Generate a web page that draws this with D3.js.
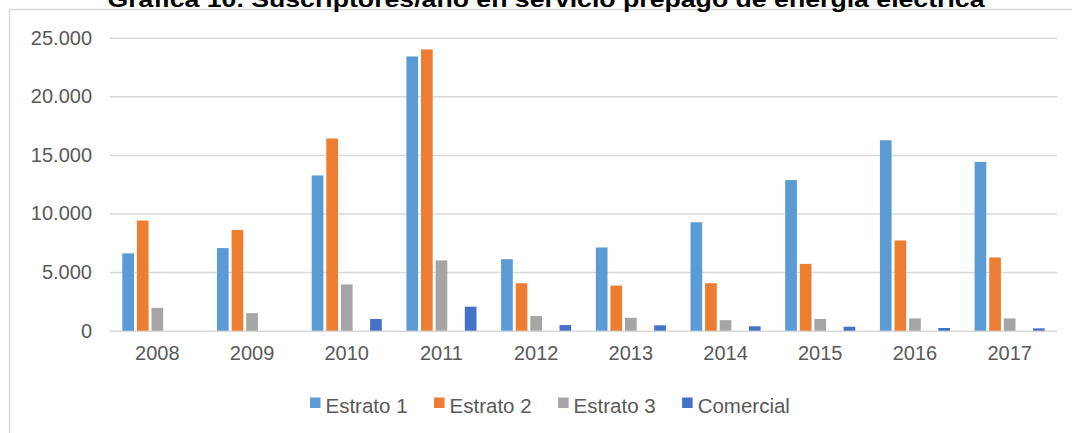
<!DOCTYPE html>
<html>
<head>
<meta charset="utf-8">
<script src="https://cdn.jsdelivr.net/npm/d3@7"></script>
<style>
  body { margin: 0; background: #fff; }
  svg { display: block; }
</style>
</head>
<body>
<svg width="1072" height="433"></svg>
<script>
// datos
var years = ["2008", "2009", "2010", "2011", "2012", "2013", "2014", "2015", "2016", "2017"];
var estrato1 = [6600, 7050, 13250, 23400, 6100, 7100, 9250, 12850, 16250, 14400];
var estrato2 = [9400, 8600, 16400, 24000, 4050, 3850, 4050, 5700, 7700, 6250];
var estrato3 = [1950, 1500, 3950, 6000, 1250, 1100, 900, 1000, 1050, 1050];
var comercial = [0, 0, 1000, 2050, 480, 460, 375, 340, 230, 200];
var yTicks = [0, 5000, 10000, 15000, 20000, 25000];

// the excel chart keeps an empty slot between Estrato 3 and Comercial
var slots = ["Estrato 1", "Estrato 2", "Estrato 3", "vacio", "Comercial"];
var series = [
    { name: "Estrato 1", values: estrato1, color: "#5b9bd5" },
    { name: "Estrato 2", values: estrato2, color: "#ed7d31" },
    { name: "Estrato 3", values: estrato3, color: "#a5a5a5" },
    { name: "Comercial", values: comercial, color: "#4472c4" }
];

var svg = d3.select("svg");
var textColor = "#595959";
var font = "Arial, 'Liberation Sans', sans-serif";

// marco del grafico
svg.append("path")
    .attr("d", "M9.5,433 V9.5 H1072")
    .attr("fill", "none")
    .attr("stroke", "#d9d9d9")
    .attr("stroke-width", 1.5);

// titulo (cortado arriba, igual que en la imagen original)
svg.append("text")
    .attr("x", 546)
    .attr("y", 6.5)
    .attr("text-anchor", "middle")
    .attr("font-family", font)
    .attr("font-weight", "bold")
    .attr("font-size", 22)
    .attr("textLength", 877)
    .attr("lengthAdjust", "spacingAndGlyphs")
    .attr("fill", "#000")
    .text("Gráfica 10. Suscriptores/año en servicio prepago de energía eléctrica");

var x = d3.scaleBand()
    .domain(years)
    .range([110, 1057])
    .paddingInner(0.26)
    .paddingOuter(0.13);

var xInner = d3.scaleBand()
    .domain(slots)
    .range([0, x.bandwidth()])
    .paddingInner(0.2);

var y = d3.scaleLinear()
    .domain([0, 25000])
    .range([330.7, 37.7]);

var fmt = d3.formatLocale({ decimal: ",", thousands: ".", grouping: [3], currency: ["$", ""] }).format(",.0f");

var yAxis = svg.append("g")
    .attr("transform", "translate(110,0)")
    .call(d3.axisLeft(y).tickValues(yTicks).tickSize(-947).tickPadding(18).tickFormat(fmt));
yAxis.select(".domain").remove();
yAxis.selectAll(".tick line").attr("stroke", "#d9d9d9").attr("stroke-width", 1.5);
yAxis.selectAll(".tick text")
    .attr("fill", textColor)
    .attr("font-family", font)
    .attr("font-size", 20);

var xAxis = svg.append("g")
    .attr("transform", "translate(0,330.7)")
    .call(d3.axisBottom(x).tickSize(0).tickPadding(15));
xAxis.select(".domain").remove();
xAxis.selectAll(".tick text")
    .attr("fill", textColor)
    .attr("font-family", font)
    .attr("font-size", 20);

var groups = svg.selectAll(".serie")
    .data(series)
    .enter()
    .append("g")
    .attr("class", "serie")
    .attr("fill", function(d) { return d.color; });

groups.selectAll("rect")
    .data(function(d) {
        return d.values.map(function(v, i) { return { name: d.name, year: years[i], value: v }; });
    })
    .enter()
    .append("rect")
    .filter(function(d) { return d.value > 0; })
    .attr("x", function(d) { return x(d.year) + xInner(d.name); })
    .attr("width", xInner.bandwidth())
    .attr("y", function(d) { return y(d.value); })
    .attr("height", function(d) { return y(0) - y(d.value); });

// leyenda
var legend = svg.append("g").attr("class", "legend");
var items = legend.selectAll("g")
    .data(series)
    .enter()
    .append("g");
items.append("rect")
    .attr("width", 10.5)
    .attr("height", 10.5)
    .attr("y", -15)
    .attr("fill", function(d) { return d.color; });
items.append("text")
    .attr("x", 15.5)
    .attr("fill", textColor)
    .attr("font-family", font)
    .attr("font-size", 20.5)
    .text(function(d) { return d.name; });

var pos = 310;
items.each(function() {
    var w = d3.select(this).select("text").node().getComputedTextLength();
    d3.select(this).attr("transform", "translate(" + pos + ",412.5)");
    pos += 15.5 + w + 26.5;
});
</script>
</body>
</html>
